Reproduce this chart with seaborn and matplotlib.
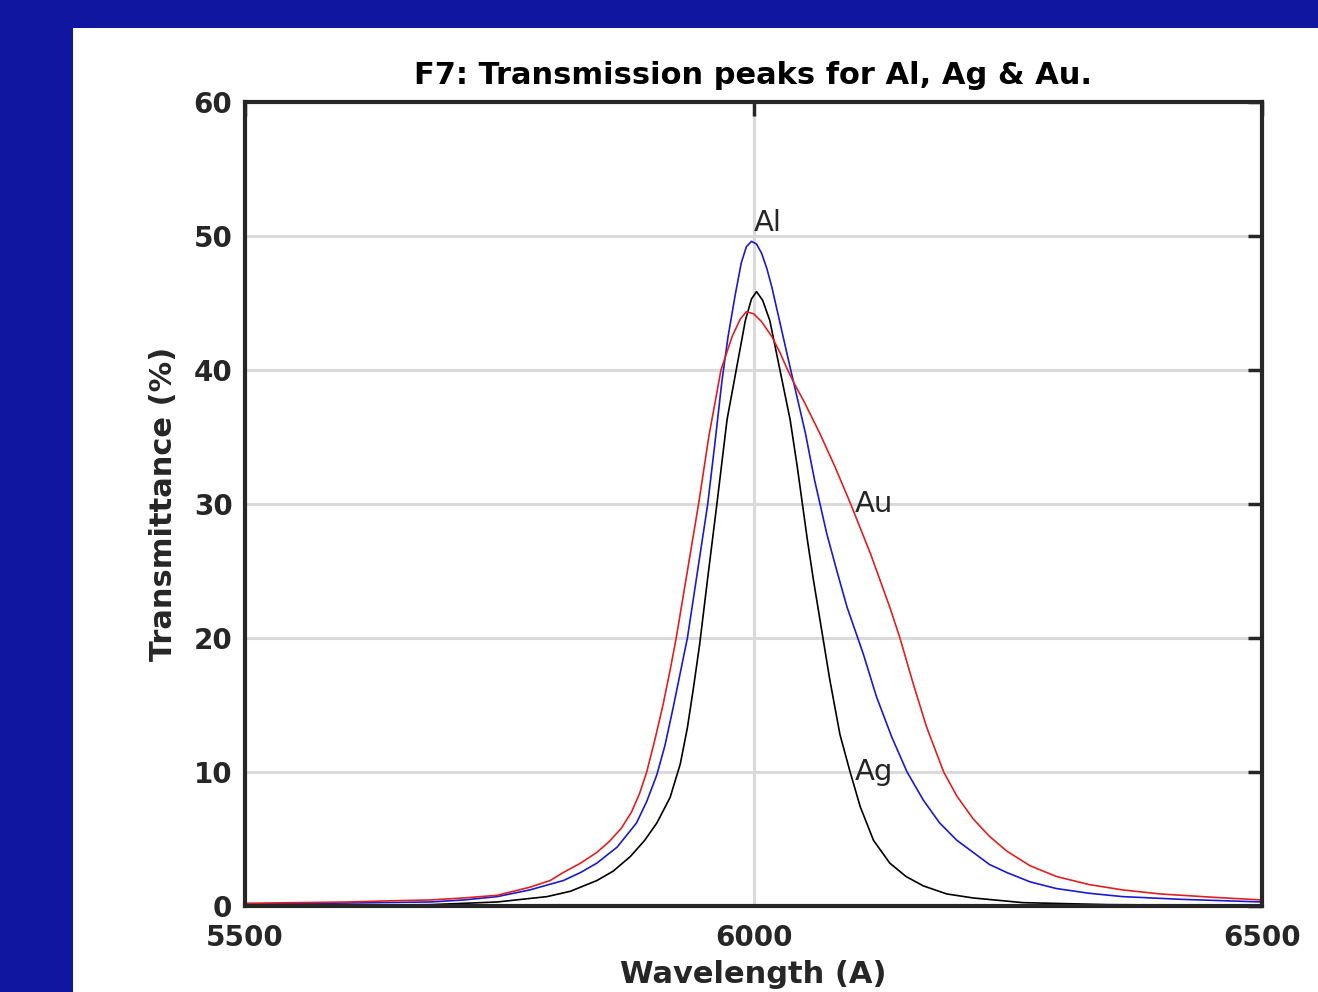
import matplotlib
matplotlib.use("Agg")
import matplotlib.pyplot as plt
from matplotlib.patches import Rectangle
import seaborn as sns
import pandas as pd

# Ag (black)
ag_wl = [5500, 5600, 5682, 5748, 5797, 5820, 5846, 5862, 5879, 5893, 5905, 5918,
         5928, 5935, 5941, 5947, 5955, 5964, 5974, 5983, 5992, 5998, 6003, 6009,
         6016, 6026, 6036, 6043, 6053, 6059, 6067, 6075, 6085, 6095, 6105, 6118,
         6134, 6150, 6167, 6190, 6216, 6265, 6350, 6500]
ag_t = [0.02, 0.05, 0.1, 0.3, 0.7, 1.1, 1.9, 2.6, 3.7, 4.9, 6.2, 8.1,
        10.6, 13.3, 16.3, 19.5, 24.5, 30.0, 36.3, 40.0, 43.7, 45.3, 45.85, 45.2,
        43.7, 40.0, 36.3, 32.8, 27.3, 24.3, 20.6, 16.9, 12.8, 10.0, 7.4, 4.9,
        3.2, 2.2, 1.5, 0.9, 0.6, 0.25, 0.1, 0.03]

# Al (blue)
al_wl = [5500, 5600, 5682, 5715, 5748, 5780, 5813, 5830, 5846, 5866, 5885, 5895,
         5905, 5913, 5921, 5928, 5935, 5945, 5955, 5962, 5969, 5975, 5982, 5988,
         5993, 5998, 6003, 6008, 6013, 6018, 6027, 6036, 6044, 6051, 6060, 6072,
         6082, 6092, 6108, 6121, 6136, 6151, 6167, 6183, 6200, 6216, 6232, 6249,
         6272, 6298, 6330, 6363, 6420, 6500]
al_t = [0.15, 0.22, 0.3, 0.45, 0.7, 1.2, 1.9, 2.5, 3.2, 4.4, 6.2, 7.8,
        9.8, 12.0, 14.8, 17.4, 20.0, 25.0, 30.0, 34.5, 39.2, 42.5, 45.6, 48.0,
        49.2, 49.6, 49.4, 48.7, 47.6, 46.2, 43.2, 40.2, 37.6, 35.3, 31.8, 27.8,
        25.0, 22.3, 18.8, 15.6, 12.6, 10.0, 7.9, 6.2, 4.9, 4.0, 3.1, 2.5,
        1.8, 1.3, 0.95, 0.7, 0.5, 0.3]

# Au (red)
au_wl = [5500, 5600, 5650, 5682, 5715, 5748, 5780, 5800, 5813, 5830, 5846, 5858,
         5870, 5880, 5888, 5895, 5903, 5911, 5918, 5924, 5935, 5946, 5956, 5968,
         5979, 5987, 5993, 6000, 6008, 6018, 6026, 6033, 6040, 6050, 6065, 6080,
         6095, 6115, 6134, 6144, 6157, 6170, 6187, 6200, 6216, 6232, 6249, 6272,
         6298, 6330, 6363, 6400, 6452, 6500]
au_t = [0.2, 0.3, 0.4, 0.45, 0.6, 0.8, 1.4, 1.9, 2.5, 3.2, 4.0, 4.8,
        5.8, 7.0, 8.4, 10.0, 12.4, 15.0, 17.6, 20.0, 25.0, 30.0, 35.0, 40.0,
        42.5, 43.8, 44.35, 44.2, 43.6, 42.5, 41.3, 40.1, 39.0, 37.6, 35.3, 32.8,
        30.1, 26.3, 22.3, 20.0, 16.6, 13.4, 10.0, 8.2, 6.5, 5.2, 4.1, 3.0,
        2.2, 1.6, 1.2, 0.9, 0.65, 0.45]

frames = []
for name, wl, t in [('Ag', ag_wl, ag_t), ('Al', al_wl, al_t), ('Au', au_wl, au_t)]:
    frames.append(pd.DataFrame({'wl': wl, 'T': t, 'metal': name}))
df = pd.concat(frames, ignore_index=True)

sns.set_theme(style="white")
plt.rcParams['font.family'] = ['DejaVu Sans']

dark = '#262626'

fig = plt.figure(figsize=(13.18, 9.92), dpi=100, facecolor='#1016a0')
fig.patches.append(Rectangle((73 / 1318, 0), 1 - 73 / 1318, 1 - 28 / 992,
                             transform=fig.transFigure, facecolor='white',
                             edgecolor='none', zorder=-1))
ax = fig.add_axes([245 / 1318, 1 - 906 / 992, 1017 / 1318, 804 / 992])

sns.lineplot(data=df, x='wl', y='T', hue='metal', hue_order=['Ag', 'Al', 'Au'],
             palette={'Ag': 'black', 'Al': '#1a1ad0', 'Au': '#e02020'},
             estimator=None, linewidth=1.2, legend=False, ax=ax)

ax.set_xlim(5500, 6500)
ax.set_ylim(0, 60)
ax.set_xticks([5500, 6000, 6500])
ax.set_yticks([0, 10, 20, 30, 40, 50, 60])
ax.set_axisbelow(True)
ax.grid(True, color='#dadada', linewidth=2.2)

for s in ax.spines.values():
    s.set_visible(True)
    s.set_color(dark)
    s.set_linewidth(3)

ax.tick_params(direction='in', length=10, width=2.5, top=True, right=True,
               labelsize=20, colors=dark, pad=9)
ax.tick_params(axis='x', pad=13)
for lab in ax.get_xticklabels() + ax.get_yticklabels():
    lab.set_fontweight('bold')

ax.set_xlabel('Wavelength (A)', fontsize=22, fontweight='bold', color=dark, labelpad=6)
ax.set_ylabel('Transmittance (%)', fontsize=22, fontweight='bold', color=dark, labelpad=11)
ax.set_title('F7: Transmission peaks for Al, Ag & Au.', fontsize=22,
             fontweight='bold', color='black', pad=13)

ax.text(6000, 51, 'Al', fontsize=21, color=dark, va='center', ha='left')
ax.text(6100, 30, 'Au', fontsize=21, color=dark, va='center', ha='left')
ax.text(6100, 10, 'Ag', fontsize=21, color=dark, va='center', ha='left')

fig.savefig('out.png', dpi=100)
